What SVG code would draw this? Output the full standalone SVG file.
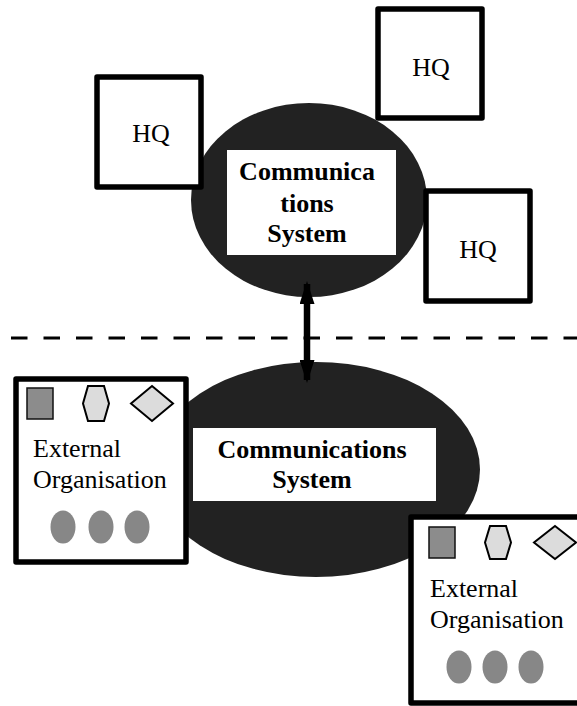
<svg xmlns="http://www.w3.org/2000/svg" width="577" height="706" viewBox="0 0 577 706">
<defs>
<style>
.hq{fill:#fff;stroke:#000;stroke-width:5.5;stroke-linejoin:round}
.blob{fill:#222}
.lab{fill:#fff}
.t{font-family:"Liberation Serif","Times New Roman",serif;font-size:26px;fill:#000}
.b{font-weight:bold;text-anchor:middle}
.sq{fill:#8c8c8c;stroke:#111;stroke-width:1.5}
.lt{fill:#dcdcdc;stroke:#000;stroke-width:2}
.dot{fill:#878787}
</style>
<marker id="ah" viewBox="0 0 23 15" refX="20" refY="7.5" markerWidth="23" markerHeight="15" markerUnits="userSpaceOnUse" orient="auto-start-reverse">
<path d="M0,0 L23,7.5 L0,15 Z" fill="#000"/>
</marker>
</defs>
<g id="divider">
<line x1="11" y1="338" x2="577" y2="338" stroke="#000" stroke-width="3" stroke-dasharray="16.5 16"/>
</g>
<g id="comms-top">
<ellipse class="blob" cx="309" cy="200" rx="118" ry="97"/>
<rect class="lab" x="227" y="150" width="169" height="105"/>
<text class="t b" x="307" y="180">Communica</text>
<text class="t b" x="307" y="212">tions</text>
<text class="t b" x="307" y="242">System</text>
</g>
<g id="hq-left">
<rect class="hq" x="97" y="77" width="104" height="110"/>
<text class="t" x="151" y="142" text-anchor="middle">HQ</text>
</g>
<g id="hq-top">
<rect class="hq" x="378" y="9" width="104" height="109"/>
<text class="t" x="431" y="76" text-anchor="middle">HQ</text>
</g>
<g id="hq-right">
<rect class="hq" x="426" y="191" width="104" height="110"/>
<text class="t" x="478" y="258" text-anchor="middle">HQ</text>
</g>
<g id="comms-bottom">
<ellipse class="blob" cx="316" cy="469.5" rx="164" ry="107.5"/>
<rect class="lab" x="193" y="428" width="243" height="73"/>
<text class="t b" x="312" y="458">Communications</text>
<text class="t b" x="312" y="488">System</text>
</g>
<g id="connectors">
<line x1="307" y1="284" x2="307" y2="380" stroke="#000" stroke-width="6.5" marker-start="url(#ah)" marker-end="url(#ah)"/>
</g>
<g id="ext-left">
<rect class="hq" x="16" y="379" width="170" height="183"/>
<rect class="sq" x="27" y="388" width="26" height="31"/>
<polygon class="lt" points="88,386 104,386 109,403.5 104,421 88,421 83,403.5"/>
<polygon class="lt" points="152,386 173,403.5 152,421 131,403.5"/>
<text class="t" x="33" y="457">External</text>
<text class="t" x="33" y="488">Organisation</text>
<ellipse class="dot" cx="63" cy="527" rx="12.5" ry="16.5"/>
<ellipse class="dot" cx="101" cy="527" rx="12.5" ry="16.5"/>
<ellipse class="dot" cx="137" cy="527" rx="12.5" ry="16.5"/>
</g>
<g id="ext-right">
<rect class="hq" x="411" y="517" width="190" height="186"/>
<rect class="sq" x="429" y="527" width="26" height="31"/>
<polygon class="lt" points="490,526 506,526 511,542.5 506,559 490,559 485,542.5"/>
<polygon class="lt" points="555,526 576,542.5 555,559 534,542.5"/>
<text class="t" x="430" y="597">External</text>
<text class="t" x="430" y="628">Organisation</text>
<ellipse class="dot" cx="459" cy="667" rx="12.5" ry="16.5"/>
<ellipse class="dot" cx="495" cy="667" rx="12.5" ry="16.5"/>
<ellipse class="dot" cx="531" cy="667" rx="12.5" ry="16.5"/>
</g>
</svg>
